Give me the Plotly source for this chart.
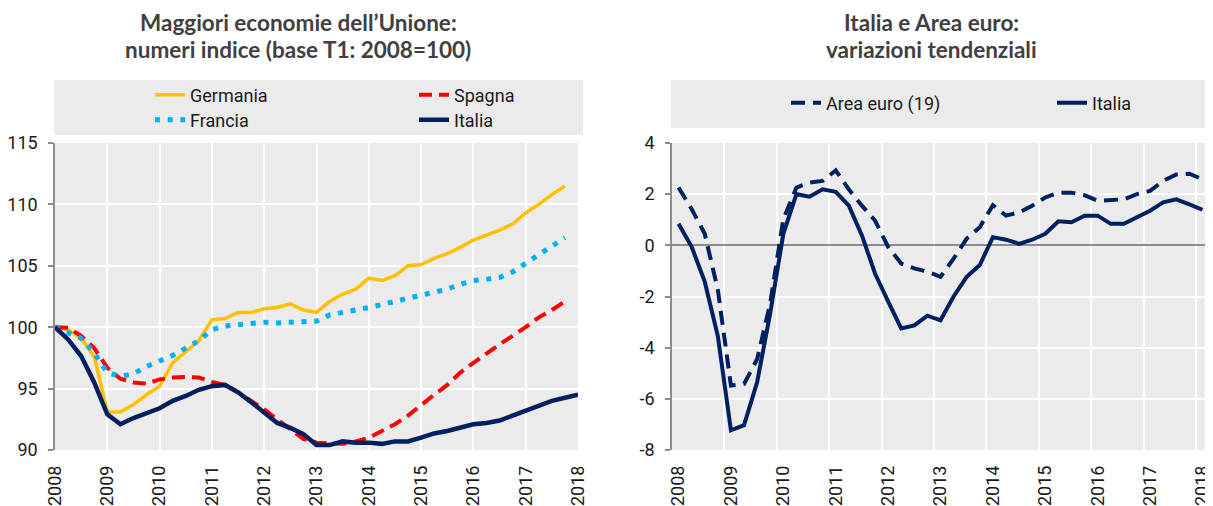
import plotly.graph_objects as go

# quarterly data, 2008 Q1 onwards
quarters_left = [2008 + i * 0.25 for i in range(41)]

germania = [100.0, 99.8, 99.1, 97.6, 93.1, 93.1, 93.7, 94.5, 95.2, 97.1,
            98.0, 98.9, 100.6, 100.7, 101.2, 101.2, 101.5, 101.6, 101.9, 101.4,
            101.2, 102.1, 102.7, 103.1, 104.0, 103.8, 104.2, 105.0, 105.1, 105.6,
            106.0, 106.5, 107.1, 107.5, 107.9, 108.4, 109.3, 110.0, 110.8, 111.5]
spagna = [100.0, 99.95, 99.3, 98.3, 96.7, 95.8, 95.5, 95.4, 95.75, 95.9,
          95.95, 95.9, 95.55, 95.3, 94.7, 94.0, 93.3, 92.5, 91.7, 90.9,
          90.6, 90.55, 90.5, 90.7, 91.0, 91.55, 92.1, 92.8, 93.7, 94.5,
          95.3, 96.3, 97.1, 97.9, 98.6, 99.3, 100.0, 100.8, 101.4, 102.1]
francia = [100.0, 99.6, 99.1, 97.9, 96.3, 96.0, 96.2, 96.8, 97.2, 97.7,
           98.3, 98.9, 99.8, 100.1, 100.2, 100.35, 100.4, 100.35, 100.4, 100.4,
           100.5, 101.0, 101.15, 101.4, 101.6, 101.85, 102.1, 102.4, 102.65, 102.85,
           103.1, 103.5, 103.8, 103.9, 104.05, 104.5, 105.2, 105.8, 106.5, 107.3]
italia_idx = [100.0, 99.0, 97.65, 95.5, 92.9, 92.1, 92.6, 93.0, 93.4, 94.0,
              94.4, 94.9, 95.2, 95.3, 94.7, 93.9, 93.0, 92.2, 91.8, 91.3,
              90.4, 90.4, 90.7, 90.6, 90.6, 90.5, 90.7, 90.7, 91.0, 91.35,
              91.55, 91.8, 92.1, 92.2, 92.4, 92.8, 93.2, 93.6, 94.0, 94.25, 94.5]

# right chart: categories centred inside each quarter
quarters_right = [2008.125 + i * 0.25 for i in range(41)]

area_euro = [2.26, 1.42, 0.45, -1.74, -5.48, -5.42, -4.45, -2.26, 1.03, 2.26,
             2.45, 2.52, 2.93, 2.19, 1.55, 0.97, -0.06, -0.71, -0.9, -1.03,
             -1.23, -0.52, 0.26, 0.71, 1.57, 1.16, 1.29, 1.55, 1.87, 2.06,
             2.06, 1.96, 1.74, 1.77, 1.8, 2.0, 2.13, 2.52, 2.77, 2.8, 2.58]
italia_var = [0.84, -0.06, -1.42, -3.55, -7.23, -7.03, -5.35, -2.65, 0.45, 2.0,
              1.9, 2.19, 2.09, 1.55, 0.39, -1.1, -2.19, -3.25, -3.13, -2.75,
              -2.93, -2.0, -1.23, -0.77, 0.32, 0.22, 0.06, 0.22, 0.45, 0.94,
              0.9, 1.16, 1.16, 0.84, 0.84, 1.1, 1.35, 1.68, 1.8, 1.6, 1.39]

years = list(range(2008, 2019))
year_labels = [str(y) for y in years]
left_yticks = [90, 95, 100, 105, 110, 115]
right_yticks = [-8, -6, -4, -2, 0, 2, 4]
right_ylabels = [str(v) for v in right_yticks]

# page is offset by the 8px body margin, so the figure is a bit smaller
W, H = 1205, 498
OFF = 8


def px(x):
    return (x - OFF) / W


def py(y):
    return 1 - (y - OFF) / H


FONT = "Roboto, Liberation Sans, sans-serif"
BG = "#EBEBEB"
AXIS_GREY = "#8C8C8C"
TXT = "#1A1A1A"

fig = go.Figure()

fig.add_trace(go.Scatter(x=quarters_left[:40], y=germania, name="Germania", mode="lines",
                         line=dict(color="#FFC000", width=3.5), legend="legend"))
fig.add_trace(go.Scatter(x=quarters_left[:40], y=spagna, name="Spagna", mode="lines",
                         line=dict(color="#FF0000", width=4, dash="13px,7px"), legend="legend2"))
fig.add_trace(go.Scatter(x=quarters_left[:40], y=francia, name="Francia", mode="lines",
                         line=dict(color="#00B0F0", width=5, dash="5px,7.7px"), legend="legend3"))
fig.add_trace(go.Scatter(x=quarters_left, y=italia_idx, name="Italia", mode="lines",
                         line=dict(color="#002060", width=4.5), legend="legend4"))

fig.add_trace(go.Scatter(x=quarters_right, y=area_euro, name="Area euro (19)", mode="lines",
                         line=dict(color="#002060", width=4, dash="14px,8px"),
                         xaxis="x2", yaxis="y2", legend="legend5"))
fig.add_trace(go.Scatter(x=quarters_right, y=italia_var, name="Italia", mode="lines",
                         line=dict(color="#002060", width=4),
                         xaxis="x2", yaxis="y2", legend="legend6"))

# dummy trace so the label axis x3 gets drawn
fig.add_trace(go.Scatter(x=[quarters_right[0]], y=[italia_var[0]], xaxis="x3", yaxis="y2",
                         mode="markers", marker=dict(opacity=0), showlegend=False,
                         hoverinfo="skip"))

ydom = [py(450), py(143)]
tickfont = dict(family=FONT, size=18, color=TXT)


def leg(x_px, y_px):
    return dict(orientation="h", x=px(x_px), xanchor="left", y=py(y_px), yanchor="middle",
                bgcolor="rgba(0,0,0,0)", font=dict(family=FONT, size=18, color=TXT))


fig.update_layout(
    width=W, height=H,
    margin=dict(l=0, r=0, t=0, b=0),
    paper_bgcolor="white",
    plot_bgcolor=BG,
    showlegend=True,
    xaxis=dict(domain=[px(55), px(578)], range=[2008, 2018], tickvals=years,
               ticktext=year_labels, tickangle=-90, tickfont=tickfont, showgrid=True,
               gridcolor="white", gridwidth=2, zeroline=False, showline=False, ticks="",
               ticklabelstandoff=11, automargin=False),
    yaxis=dict(domain=ydom, range=[90, 115], tickvals=left_yticks, tickfont=tickfont,
               showgrid=True, gridcolor="white", gridwidth=2, zeroline=False, showline=True,
               linecolor=AXIS_GREY, linewidth=1.5, ticks="outside", ticklen=5,
               tickcolor=AXIS_GREY, tickwidth=1.5, ticklabelstandoff=7, automargin=False),
    # x2 carries the year gridlines, x3 the centred year labels
    xaxis2=dict(domain=[px(672), px(1209)], range=[2008, 2018.25], anchor="y2",
                tickvals=years, showticklabels=False, showgrid=True, gridcolor="white",
                gridwidth=2, zeroline=False, showline=False, ticks="", automargin=False),
    xaxis3=dict(domain=[px(672), px(1209)], range=[2008, 2018.25], anchor="y2",
                overlaying="x2", tickvals=[y + 0.125 for y in years], ticktext=year_labels,
                tickangle=-90, tickfont=tickfont, showgrid=False, zeroline=False,
                showline=False, ticks="", ticklabelstandoff=11, automargin=False),
    yaxis2=dict(domain=ydom, range=[-8, 4], tickvals=right_yticks, ticktext=right_ylabels,
                anchor="x2", tickfont=tickfont, showgrid=True, gridcolor="white", gridwidth=2,
                zeroline=True, zerolinecolor=AXIS_GREY, zerolinewidth=1.5, showline=True,
                linecolor=AXIS_GREY, linewidth=1.5, ticks="outside", ticklen=5,
                tickcolor=AXIS_GREY, tickwidth=1.5, ticklabelstandoff=7, automargin=False),
    legend=leg(150, 95),
    legend2=leg(414, 95),
    legend3=leg(150, 120),
    legend4=leg(414, 120),
    legend5=leg(786, 103),
    legend6=leg(1052, 103),
)

# legend backgrounds
fig.add_shape(type="rect", xref="paper", yref="paper", x0=px(54), x1=px(583),
              y0=py(135), y1=py(80), fillcolor=BG, line_width=0, layer="below")
fig.add_shape(type="rect", xref="paper", yref="paper", x0=px(671), x1=1,
              y0=py(128), y1=py(80), fillcolor=BG, line_width=0, layer="below")

# base line at 100
fig.add_shape(type="line", xref="x domain", yref="y", x0=0, x1=1, y0=100, y1=100,
              line=dict(color=AXIS_GREY, width=1.5), layer="below")

title_font = dict(family="Lato, Open Sans, sans-serif", size=22.5, color="#404040")
titles = [
    (298, 22, "<b>Maggiori economie dell’Unione:</b>"),
    (298, 50, "<b>numeri indice (base T1: 2008=100)</b>"),
    (931, 22, "<b>Italia e Area euro:</b>"),
    (931, 50, "<b>variazioni tendenziali</b>"),
]
for tx, ty, txt in titles:
    fig.add_annotation(x=px(tx), y=py(ty), xref="paper", yref="paper", text=txt,
                       showarrow=False, xanchor="center", yanchor="middle", font=title_font)

fig.write_html("out.html")
